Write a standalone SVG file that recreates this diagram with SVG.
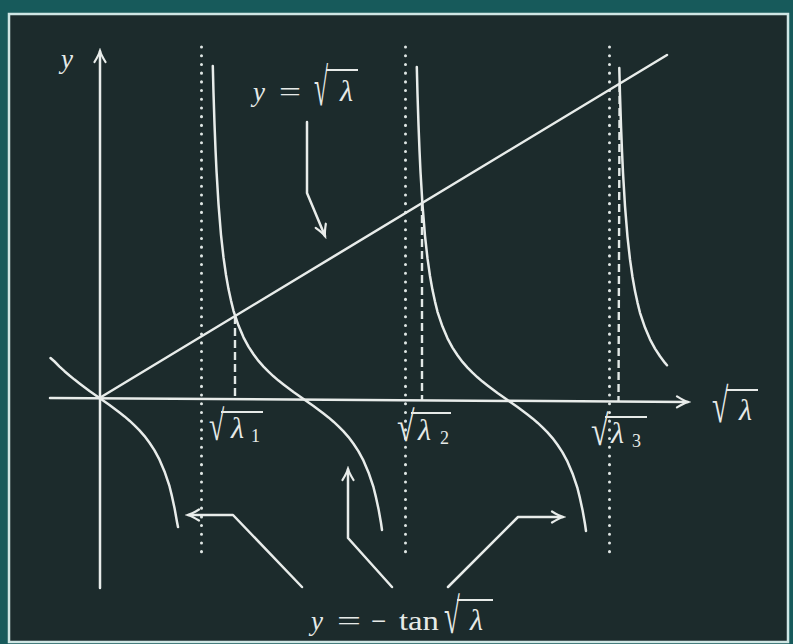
<svg xmlns="http://www.w3.org/2000/svg" xmlns:xlink="http://www.w3.org/1999/xlink" width="793" height="644" viewBox="0 0 793 644">
<style>
.ln{stroke:#e8ecea;stroke-width:2.5;fill:none;stroke-linecap:round;stroke-linejoin:round}
.dot{stroke:#dfe6e4;stroke-width:3;fill:none;stroke-dasharray:0.1 8.6;stroke-linecap:round}
.dash{stroke:#e2e8e6;stroke-width:2.4;fill:none;stroke-dasharray:8 4}
.bar{stroke:#e6eae8;stroke-width:2;fill:none}
text{font-family:"Liberation Serif","DejaVu Serif",serif;fill:#e6eae8;font-size:27px}
.it{font-style:italic}
.lam{font-style:italic;font-size:30px}
.sub{font-size:18px}
.rad{font-size:32px}
</style>
<defs>
<marker id="ah" markerUnits="userSpaceOnUse" markerWidth="16" markerHeight="16" viewBox="-13 -8 16 16" refX="0" refY="0" orient="auto">
<path d="M-11,-5.5 Q-4,-1.2 0,0 Q-4,1.2 -11,5.5" fill="none" stroke="#e8ecea" stroke-width="2.2" stroke-linecap="round"/>
</marker>
<path id="br" d="M-90.7,-333 L-90,-306 -89,-275.1 -88,-249.6 -87,-228.3 -85,-194.9 -82.5,-164.2 -80,-141.6 -77.5,-124 -75,-109.9 -72.5,-98.4 -70,-88.2 -65,-73.4 -60,-61.7 -55,-52.4 -50,-44.7 -45,-38.1 -40,-32.4 -35,-27.3 -30,-22.7 -25,-18.4 -20,-14.5 -15,-10.7 -10,-7 -5,-3.5 0,0 5,3.5 10,7 15,10.7 20,14.5 25,18.4 30,22.7 35,27.3 40,32.4 45,38.1 50,44.7 55,52.4 60,61.7 65,73.4 70,88.2 72.5,98.4 75,109.9 77.5,124 78.5,131"/>
</defs>
<rect x="0" y="0" width="793" height="644" fill="#175a5b"/>
<rect id="plot" x="9" y="14" width="779" height="628" fill="#1c2b2c" stroke="#cfe6e4" stroke-width="2.5"/>

<g id="asymptotes">
<line class="dot" x1="201.5" y1="47" x2="201.5" y2="552"/>
<line class="dot" x1="405.5" y1="47" x2="405.5" y2="552"/>
<line class="dot" x1="609.5" y1="47" x2="609.5" y2="552"/>
</g>

<g id="roots">
<line class="dash" x1="235" y1="316" x2="235" y2="399"/>
<line class="dash" x1="422" y1="203" x2="422" y2="400"/>
<line class="dash" x1="619.6" y1="84" x2="618.5" y2="402"/>
</g>

<g id="axes">
<line class="ln" x1="100" y1="588" x2="100" y2="51" marker-end="url(#ah)"/>
<line class="ln" x1="50" y1="398" x2="688" y2="402" marker-end="url(#ah)"/>
</g>

<g id="curves">
<line id="sqrt-line" class="ln" x1="99.5" y1="398" x2="667" y2="55"/>
<path id="branch0" class="ln" d="M50.5,358 L54.5,361.5 59.5,366.6 64.5,371.2 69.5,375.5 74.5,379.6 79.5,383.5 84.5,387.3 89.5,391 94.5,394.5 99.5,398 104.5,401.5 109.5,405 114.5,408.7 119.5,412.5 124.5,416.4 129.5,420.7 134.5,425.3 139.5,430.4 144.5,436.1 149.5,442.7 154.5,450.4 159.5,459.7 164.5,471.4 169.5,486.2 172,496.4 174.5,507.9 177,522 178,527"/>
<use id="branch1" xlink:href="#br" href="#br" class="ln" transform="translate(303.5,399)"/>
<use id="branch2" xlink:href="#br" href="#br" class="ln" transform="translate(507.5,400)"/>
<path id="branch3" class="ln" d="M619.3,68 L620,95 621,125.9 622,151.4 623,172.7 625,206.1 627.5,236.8 630,259.4 632.5,277 635,291.1 637.5,302.6 640,312.8 645,327.6 650,339.3 655,348.6 660,356.3 665,362.9 667,365.2"/>
</g>

<g id="connectors">
<polyline class="ln" points="307,122 307,193 325,236" marker-end="url(#ah)"/>
<polyline class="ln" points="302,587 233,515 188,515" marker-end="url(#ah)"/>
<polyline class="ln" points="392,587 348,538 348,469" marker-end="url(#ah)"/>
<polyline class="ln" points="448,587 518,517 563,517" marker-end="url(#ah)"/>
</g>

<g id="label-y-axis"><text class="it" x="61" y="68" font-size="26">y</text></g>

<g id="label-line">
<text class="it" x="253" y="101">y</text>
<text x="279" y="101" textLength="22" lengthAdjust="spacingAndGlyphs">=</text>
<text class="rad" transform="translate(314,105) scale(0.8,1.67)">√</text>
<line class="bar" x1="326" y1="70" x2="358" y2="70"/>
<text class="lam" x="340" y="101">λ</text>
</g>

<g id="label-x-axis">
<text class="rad" transform="translate(712,422) scale(0.93,1.52)">√</text>
<line class="bar" x1="726" y1="390" x2="758" y2="390"/>
<text class="lam" x="739" y="420">λ</text>
</g>

<g id="label-root1">
<text class="rad" transform="translate(209,440) scale(0.87,1.33)">√</text>
<line class="bar" x1="221" y1="412" x2="263" y2="412"/>
<text class="lam" x="231" y="438">λ</text>
<text class="sub" x="251" y="442">1</text>
</g>

<g id="label-root2">
<text class="rad" transform="translate(397,441) scale(1,1.33)">√</text>
<line class="bar" x1="411" y1="413" x2="451" y2="413"/>
<text class="lam" x="418" y="440">λ</text>
<text class="sub" x="440" y="444">2</text>
</g>

<g id="label-root3">
<text class="rad" transform="translate(591,445) scale(1,1.33)">√</text>
<line class="bar" x1="605" y1="417" x2="647" y2="417"/>
<text class="lam" x="611" y="443">λ</text>
<text class="sub" x="632" y="447">3</text>
</g>

<g id="label-tan">
<text class="it" x="311" y="630" font-size="30">y</text>
<text x="337" y="630" textLength="24" lengthAdjust="spacingAndGlyphs">=</text>
<text x="371" y="630">−</text>
<text x="399" y="630" textLength="40" lengthAdjust="spacingAndGlyphs">tan</text>
<text class="rad" transform="translate(444,633) scale(0.9,1.57)">√</text>
<line class="bar" x1="457" y1="600" x2="493" y2="600"/>
<text class="lam" x="470" y="630">λ</text>
</g>
</svg>
